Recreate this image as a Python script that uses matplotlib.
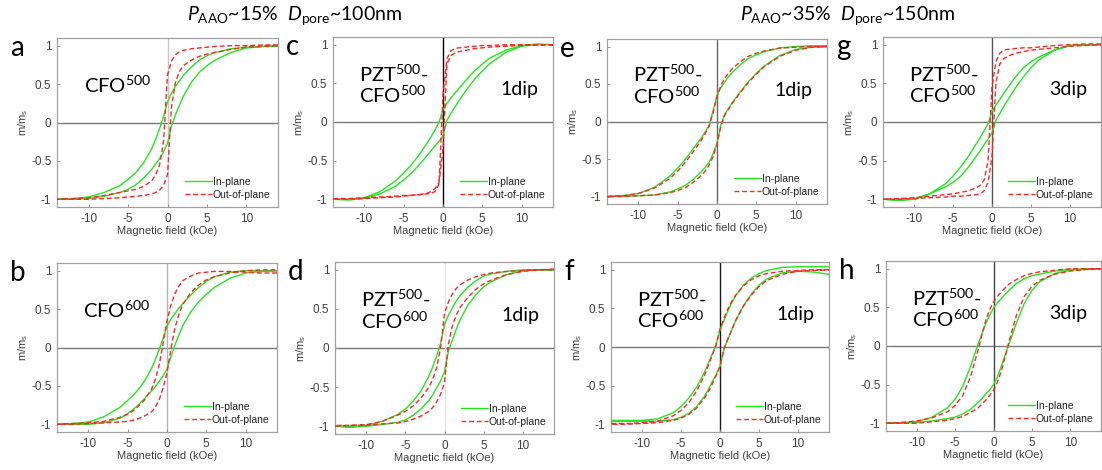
import numpy as np
import matplotlib
matplotlib.use("Agg")
from matplotlib import pyplot as plt

plt.rcParams['font.family'] = ['Liberation Sans', 'DejaVu Sans']
plt.rcParams['mathtext.fontset'] = 'custom'
plt.rcParams['mathtext.rm'] = 'Lato'
plt.rcParams['mathtext.it'] = 'Lato:italic'

# field grid (kOe), shared by every branch below
field_koe = [-14, -12, -10, -8, -6, -5, -4, -3, -2, -1.5, -1, -0.5, 0,
             0.5, 1, 1.5, 2, 3, 4, 5, 6, 8, 10, 12, 14]

x_ticks = [-10, -5, 0, 5, 10]
x_tick_labels = ['-10', '-5', '0', '5', '10']
y_ticks = [-1, -0.5, 0, 0.5, 1]
y_tick_labels = ['-1', '-0.5', '0', '0.5', '1']

# m/ms, "up" = descending-field branch, "dn" = ascending-field branch
a_ip_up = [-1.0, -0.99, -0.97, -0.91, -0.82, -0.74, -0.65, -0.52, -0.34, -0.22, -0.08, 0.08, 0.27, 0.38, 0.47, 0.54, 0.61, 0.72, 0.81, 0.87, 0.91, 0.96, 0.98, 0.99, 1.0]
a_ip_dn = [-1.0, -1.0, -0.99, -0.96, -0.91, -0.87, -0.81, -0.72, -0.61, -0.54, -0.47, -0.38, -0.27, -0.05, 0.10, 0.22, 0.34, 0.52, 0.65, 0.74, 0.81, 0.91, 0.97, 0.99, 0.99]
a_oop_up = [-1.0, -0.99, -0.98, -0.95, -0.91, -0.89, -0.87, -0.83, -0.76, -0.68, -0.55, -0.25, 0.62, 0.80, 0.88, 0.92, 0.94, 0.96, 0.97, 0.98, 0.99, 1.0, 1.0, 1.01, 1.01]
a_oop_dn = [-1.0, -1.0, -1.0, -0.99, -0.98, -0.97, -0.96, -0.95, -0.93, -0.91, -0.88, -0.82, -0.68, 0.20, 0.52, 0.66, 0.74, 0.81, 0.86, 0.89, 0.91, 0.95, 0.98, 0.99, 1.0]

b_ip_up = [-1.0, -0.99, -0.97, -0.90, -0.78, -0.69, -0.59, -0.46, -0.28, -0.16, -0.03, 0.12, 0.28, 0.37, 0.44, 0.51, 0.57, 0.68, 0.78, 0.86, 0.92, 0.98, 1.0, 1.0, 1.0]
b_ip_dn = [-1.0, -1.0, -1.0, -0.98, -0.92, -0.86, -0.78, -0.68, -0.57, -0.51, -0.44, -0.37, -0.28, -0.12, 0.03, 0.16, 0.28, 0.46, 0.59, 0.69, 0.78, 0.90, 0.97, 0.99, 1.0]
b_oop_up = [-1.0, -0.99, -0.98, -0.96, -0.91, -0.87, -0.80, -0.70, -0.55, -0.42, -0.23, 0.05, 0.35, 0.55, 0.70, 0.80, 0.87, 0.93, 0.97, 0.98, 0.99, 0.99, 0.98, 0.97, 0.97]
b_oop_dn = [-1.0, -1.0, -0.99, -0.98, -0.97, -0.96, -0.94, -0.90, -0.84, -0.78, -0.68, -0.53, -0.33, -0.02, 0.25, 0.43, 0.56, 0.71, 0.81, 0.88, 0.92, 0.97, 1.0, 1.01, 1.01]

c_ip_up = [-1.0, -1.0, -0.98, -0.90, -0.76, -0.66, -0.55, -0.42, -0.27, -0.19, -0.10, 0.0, 0.16, 0.24, 0.31, 0.37, 0.43, 0.55, 0.66, 0.75, 0.83, 0.93, 0.99, 1.01, 1.0]
c_ip_dn = [-1.0, -1.01, -0.99, -0.93, -0.83, -0.75, -0.66, -0.55, -0.43, -0.37, -0.31, -0.25, -0.18, 0.02, 0.11, 0.19, 0.27, 0.42, 0.55, 0.66, 0.76, 0.90, 0.98, 1.0, 1.0]
c_oop_up = [-0.99, -0.99, -0.98, -0.97, -0.96, -0.95, -0.95, -0.94, -0.93, -0.92, -0.90, -0.80, 0.35, 0.82, 0.92, 0.95, 0.96, 0.97, 0.98, 0.99, 0.99, 1.0, 1.0, 1.0, 1.0]
c_oop_dn = [-1.0, -1.0, -0.99, -0.98, -0.97, -0.96, -0.95, -0.94, -0.92, -0.90, -0.86, -0.78, -0.35, 0.75, 0.86, 0.89, 0.91, 0.93, 0.95, 0.96, 0.97, 0.98, 0.99, 1.0, 1.0]

d_ip_up = [-1.0, -1.01, -0.99, -0.94, -0.85, -0.78, -0.68, -0.55, -0.36, -0.24, -0.10, 0.06, 0.30, 0.42, 0.51, 0.60, 0.67, 0.78, 0.86, 0.92, 0.95, 0.98, 1.0, 1.0, 1.0]
d_ip_dn = [-1.0, -1.01, -1.0, -0.98, -0.95, -0.92, -0.86, -0.78, -0.67, -0.60, -0.51, -0.42, -0.30, -0.04, 0.10, 0.24, 0.36, 0.55, 0.68, 0.78, 0.85, 0.94, 0.99, 1.0, 1.0]
d_oop_up = [-0.99, -0.99, -0.98, -0.94, -0.86, -0.81, -0.74, -0.64, -0.50, -0.40, -0.25, 0.0, 0.44, 0.59, 0.69, 0.76, 0.81, 0.87, 0.91, 0.94, 0.96, 0.98, 0.99, 1.0, 1.01]
d_oop_dn = [-1.0, -0.99, -0.99, -0.97, -0.96, -0.94, -0.91, -0.87, -0.81, -0.76, -0.69, -0.59, -0.44, 0.05, 0.28, 0.42, 0.52, 0.65, 0.75, 0.82, 0.87, 0.94, 0.98, 1.0, 1.0]

e_ip_up = [-1.0, -0.99, -0.96, -0.88, -0.73, -0.62, -0.50, -0.36, -0.22, -0.14, -0.05, 0.14, 0.35, 0.45, 0.53, 0.60, 0.66, 0.76, 0.84, 0.89, 0.93, 0.98, 1.0, 1.01, 1.01]
e_ip_dn = [-1.0, -1.0, -0.99, -0.98, -0.94, -0.90, -0.85, -0.77, -0.67, -0.61, -0.54, -0.43, -0.29, -0.04, 0.10, 0.18, 0.26, 0.40, 0.53, 0.64, 0.74, 0.88, 0.96, 0.99, 1.0]
e_oop_up = [-1.0, -0.99, -0.96, -0.89, -0.76, -0.66, -0.54, -0.40, -0.25, -0.16, -0.06, 0.12, 0.33, 0.48, 0.58, 0.65, 0.71, 0.80, 0.87, 0.91, 0.94, 0.98, 0.99, 1.0, 1.0]
e_oop_dn = [-1.0, -1.0, -0.99, -0.98, -0.95, -0.92, -0.88, -0.81, -0.72, -0.66, -0.58, -0.47, -0.30, -0.06, 0.09, 0.17, 0.25, 0.39, 0.52, 0.63, 0.73, 0.87, 0.95, 0.99, 1.0]

f_ip_up = [-0.95, -0.95, -0.95, -0.93, -0.85, -0.77, -0.66, -0.52, -0.33, -0.21, -0.09, 0.03, 0.22, 0.34, 0.46, 0.57, 0.66, 0.80, 0.89, 0.95, 0.99, 1.03, 1.04, 1.04, 1.04]
f_ip_dn = [-0.96, -0.96, -0.96, -0.96, -0.94, -0.91, -0.86, -0.77, -0.64, -0.55, -0.45, -0.36, -0.25, -0.03, 0.10, 0.22, 0.34, 0.53, 0.68, 0.80, 0.88, 0.96, 0.98, 0.97, 0.94]
f_oop_up = [-0.99, -0.99, -0.98, -0.96, -0.89, -0.82, -0.72, -0.57, -0.37, -0.24, -0.11, 0.03, 0.23, 0.37, 0.49, 0.59, 0.67, 0.79, 0.87, 0.92, 0.95, 0.98, 0.99, 1.0, 1.0]
f_oop_dn = [-1.0, -1.0, -0.99, -0.98, -0.95, -0.92, -0.87, -0.79, -0.66, -0.58, -0.48, -0.37, -0.25, -0.03, 0.10, 0.22, 0.34, 0.53, 0.67, 0.78, 0.86, 0.94, 0.98, 0.99, 1.0]

g_ip_up = [-1.0, -1.01, -1.0, -0.93, -0.80, -0.70, -0.58, -0.44, -0.28, -0.20, -0.11, -0.02, 0.14, 0.22, 0.29, 0.37, 0.44, 0.58, 0.70, 0.78, 0.84, 0.93, 0.99, 1.0, 1.0]
g_ip_dn = [-1.0, -1.01, -1.0, -0.93, -0.84, -0.78, -0.70, -0.58, -0.44, -0.37, -0.29, -0.22, -0.14, 0.02, 0.11, 0.20, 0.28, 0.44, 0.58, 0.70, 0.80, 0.93, 0.99, 1.0, 1.0]
g_oop_up = [-1.0, -0.99, -0.98, -0.96, -0.94, -0.93, -0.91, -0.89, -0.85, -0.82, -0.75, -0.50, 0.45, 0.78, 0.89, 0.93, 0.94, 0.95, 0.96, 0.96, 0.97, 0.99, 1.0, 1.01, 1.01]
g_oop_dn = [-1.0, -1.0, -0.99, -0.98, -0.97, -0.96, -0.96, -0.95, -0.94, -0.93, -0.89, -0.78, -0.45, 0.50, 0.75, 0.82, 0.85, 0.89, 0.91, 0.93, 0.94, 0.96, 0.98, 0.99, 1.0]

h_ip_up = [-1.0, -0.99, -0.98, -0.92, -0.80, -0.69, -0.52, -0.27, 0.03, 0.16, 0.29, 0.40, 0.49, 0.56, 0.61, 0.67, 0.72, 0.81, 0.87, 0.91, 0.93, 0.97, 0.99, 1.0, 1.0]
h_ip_dn = [-1.0, -1.0, -0.99, -0.97, -0.94, -0.92, -0.88, -0.82, -0.73, -0.68, -0.62, -0.57, -0.50, -0.40, -0.27, -0.12, 0.02, 0.30, 0.55, 0.72, 0.83, 0.94, 0.98, 0.99, 1.0]
h_oop_up = [-1.0, -0.99, -0.97, -0.93, -0.85, -0.77, -0.64, -0.40, -0.05, 0.15, 0.33, 0.47, 0.57, 0.64, 0.70, 0.75, 0.80, 0.86, 0.91, 0.94, 0.96, 0.98, 1.0, 1.0, 1.0]
h_oop_dn = [-1.0, -1.0, -1.0, -0.98, -0.96, -0.94, -0.91, -0.86, -0.80, -0.75, -0.70, -0.64, -0.57, -0.47, -0.33, -0.15, 0.05, 0.40, 0.64, 0.77, 0.85, 0.93, 0.97, 0.99, 1.0]

sample_labels = {
    'a': r'CFO$^{\mathregular{500}}$',
    'b': r'CFO$^{\mathregular{600}}$',
    'c': 'PZT$^{\\mathregular{500}}$-\nCFO$^{\\mathregular{500}}$',
    'd': 'PZT$^{\\mathregular{500}}$-\nCFO$^{\\mathregular{600}}$',
    'e': 'PZT$^{\\mathregular{500}}$-\nCFO$^{\\mathregular{500}}$',
    'f': 'PZT$^{\\mathregular{500}}$-\nCFO$^{\\mathregular{600}}$',
    'g': 'PZT$^{\\mathregular{500}}$-\nCFO$^{\\mathregular{500}}$',
    'h': 'PZT$^{\\mathregular{500}}$-\nCFO$^{\\mathregular{600}}$',
}
dip_labels = {'a': '', 'b': '', 'c': '1dip', 'd': '1dip',
              'e': '1dip', 'f': '1dip', 'g': '3dip', 'h': '3dip'}

W, H = 1102, 470
# panel: (data, axes box in pixels left/top/right/bottom, x=0 line colour)
panels = {
    'a': ((a_ip_up, a_ip_dn, a_oop_up, a_oop_dn), (57, 38, 278, 207), '#c8c8c8'),
    'b': ((b_ip_up, b_ip_dn, b_oop_up, b_oop_dn), (57, 263, 277, 432), '#b4b4b4'),
    'c': ((c_ip_up, c_ip_dn, c_oop_up, c_oop_dn), (333, 37, 553, 207), '#000000'),
    'd': ((d_ip_up, d_ip_dn, d_oop_up, d_oop_dn), (335, 262, 554, 434), '#e2e2e2'),
    'e': ((e_ip_up, e_ip_dn, e_oop_up, e_oop_dn), (607, 39, 827, 204), '#666666'),
    'f': ((f_ip_up, f_ip_dn, f_oop_up, f_oop_dn), (611, 262, 829, 432), '#1a1a1a'),
    'g': ((g_ip_up, g_ip_dn, g_oop_up, g_oop_dn), (883, 37, 1101, 207), '#555555'),
    'h': ((h_ip_up, h_ip_dn, h_oop_up, h_oop_dn), (886, 261, 1101, 431), '#444444'),
}

green = '#22e622'
red = '#ff2626'
grey_txt = '#404040'

fig = plt.figure(figsize=(W / 100, H / 100), dpi=100)


def loop_xy(up, dn):
    h = np.array(field_koe, dtype=float)
    x = np.concatenate([h[::-1], h])
    y = np.concatenate([np.array(up)[::-1], np.array(dn)])
    return x, y


for key, (data, box, vcol) in panels.items():
    l, t, r, b = box
    ax = fig.add_axes([l / W, 1 - b / H, (r - l) / W, (b - t) / H])
    ip_up, ip_dn, oop_up, oop_dn = data

    ax.axhline(0, color='#7a7a7a', lw=1.0, zorder=1)
    ax.axvline(0, color=vcol, lw=1.0, zorder=1)

    x, y = loop_xy(ip_up, ip_dn)
    ax.plot(x, y, color=green, lw=1.0, label='In-plane', zorder=3)
    x, y = loop_xy(oop_up, oop_dn)
    ax.plot(x, y, color=red, lw=1.0, ls=(0, (3.5, 2)), label='Out-of-plane', zorder=4)

    ax.set_xlim(-14, 14)
    ax.set_ylim(-1.1, 1.1)
    ax.set_xticks(x_ticks, x_tick_labels)
    ax.set_yticks(y_ticks, y_tick_labels)
    ax.tick_params(direction='in', length=2.5, width=0.6, color='#888888',
                   labelsize=8.5, labelcolor=grey_txt, pad=4)
    for s in ax.spines.values():
        s.set_color('#a0a0a0')
        s.set_linewidth(0.9)

    ax.set_xlabel('Magnetic field (kOe)', fontsize=8, color=grey_txt, labelpad=1)
    ax.set_ylabel(r'm/m$_\mathregular{s}$', fontsize=8, color=grey_txt, va='center')
    # label centre about 34 px left of the frame
    ax.yaxis.set_label_coords(-34 / (r - l), 0.5)

    leg = ax.legend(loc='lower right', frameon=False, fontsize=7.5,
                    handlelength=2.6, handletextpad=0.1, labelspacing=0.25,
                    borderaxespad=0.3)
    for txt in leg.get_texts():
        txt.set_color('#222222')

    ax.text(0.12, 0.72, sample_labels[key], transform=ax.transAxes,
            family='Lato', fontsize=14.5, va='center', ha='left', linespacing=1.0)
    if dip_labels[key]:
        ax.text(0.76, 0.69, dip_labels[key], transform=ax.transAxes,
                family='Lato', fontsize=14, va='center', ha='left')

    # panel letter
    fig.text((l - 47) / W, 1 - (t + 10) / H, key, family='Lato', fontsize=20,
             va='center', ha='left')

fig.text(295 / W, 1 - 16 / H, r'$P_\mathregular{AAO}$~15%  $D_\mathregular{pore}$~100nm',
         family='Lato', fontsize=14, ha='center', va='center')
fig.text(848 / W, 1 - 16 / H, r'$P_\mathregular{AAO}$~35%  $D_\mathregular{pore}$~150nm',
         family='Lato', fontsize=14, ha='center', va='center')

fig.savefig('out.png', dpi=100)
